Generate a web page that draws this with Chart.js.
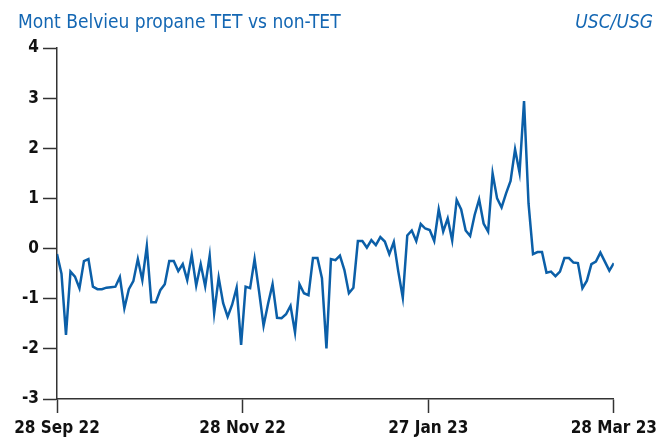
<!DOCTYPE html>
<html>
<head>
<meta charset="utf-8">
<script src="https://cdn.jsdelivr.net/npm/chart.js@4/dist/chart.umd.min.js"></script>
<style>
  html, body { margin: 0; padding: 0; background: #ffffff; }
  #wrap { width: 662px; height: 446px; position: relative; }
</style>
</head>
<body>
<div id="wrap"><canvas id="c" width="662" height="446"></canvas></div>
<script>
// ---- data ----
const chartTitle = 'Mont Belvieu propane TET vs non-TET';
const unitLabel = 'USC/USG';
const tickLabels = ['28 Sep 22', '28 Nov 22', '27 Jan 23', '28 Mar 23'];
const yMin = -3;
const yMax = 4;
const values = [
  -0.11, -0.50, -1.72, -0.46, -0.56, -0.79, -0.25, -0.21, -0.76, -0.81,
  -0.81, -0.78, -0.77, -0.76, -0.57, -1.19, -0.81, -0.65, -0.21, -0.63,
   0.05, -1.07, -1.07, -0.83, -0.71, -0.25, -0.25, -0.45, -0.31, -0.63,
  -0.13, -0.74, -0.31, -0.75, -0.14, -1.29, -0.58, -1.09, -1.36, -1.12,
  -0.78, -1.92, -0.76, -0.79, -0.21, -0.86, -1.54, -1.10, -0.71, -1.38,
  -1.39, -1.31, -1.14, -1.67, -0.71, -0.89, -0.93, -0.19, -0.19, -0.59,
  -1.99, -0.21, -0.23, -0.14, -0.43, -0.89, -0.78,  0.15,  0.15,  0.02,
   0.17,  0.07,  0.23,  0.14, -0.11,  0.13, -0.46, -0.98,  0.26,  0.36,
   0.15,  0.49,  0.40,  0.37,  0.15,  0.78,  0.34,  0.60,  0.16,  0.97,
   0.78,  0.36,  0.25,  0.67,  0.98,  0.50,  0.34,  1.50,  1.00,  0.82,
   1.10,  1.35,  1.98,  1.51,  2.94,  0.90, -0.11, -0.07, -0.07, -0.48,
  -0.46, -0.55, -0.46, -0.19, -0.19, -0.28, -0.29, -0.79, -0.64, -0.31,
  -0.26, -0.08, -0.26, -0.44, -0.29
];

const points = values.map((v, i) => ({ x: i, y: v }));
const lastIndex = values.length - 1;

const FONT = '"DejaVu Sans Condensed", "DejaVu Sans", sans-serif';
const BLUE = '#0b5fa8';
const TITLE_BLUE = '#1467b3';

const headerPlugin = {
  id: 'header',
  afterDraw(chart) {
    const ctx = chart.ctx;
    ctx.save();
    ctx.fillStyle = TITLE_BLUE;
    ctx.textBaseline = 'alphabetic';
    ctx.font = '19px ' + FONT;
    ctx.textAlign = 'left';
    ctx.fillText(chartTitle, 18, 28);
    ctx.font = 'italic 19px ' + FONT;
    ctx.textAlign = 'right';
    ctx.fillText(unitLabel, 653, 28);
    ctx.restore();
  }
};

new Chart(document.getElementById('c'), {
  type: 'line',
  data: {
    datasets: [{
      data: points,
      borderColor: BLUE,
      borderWidth: 2.5,
      pointRadius: 0,
      tension: 0,
      fill: false
    }]
  },
  options: {
    responsive: false,
    animation: false,
    devicePixelRatio: 1,
    layout: { padding: { top: 48, right: 48, bottom: 0, left: 0 } },
    plugins: {
      legend: { display: false },
      tooltip: { enabled: false },
      title: { display: false }
    },
    scales: {
      x: {
        type: 'linear',
        min: 0,
        max: lastIndex,
        afterBuildTicks(scale) {
          const n = tickLabels.length - 1;
          scale.ticks = tickLabels.map((l, i) => ({ value: i * lastIndex / n }));
        },
        afterFit(scale) { scale.height = 47; },
        ticks: {
          autoSkip: false,
          maxRotation: 0,
          padding: 5,
          color: '#111',
          font: { family: FONT, size: 17, weight: 'bold' },
          callback: (v, i) => tickLabels[i]
        },
        grid: {
          display: true,
          drawOnChartArea: false,
          drawTicks: true,
          tickLength: 14,
          tickColor: '#333',
          tickWidth: 1.5
        },
        border: { display: true, color: '#333', width: 1.5 }
      },
      y: {
        min: yMin,
        max: yMax,
        afterFit(scale) { scale.width = 57; },
        ticks: {
          stepSize: 1,
          padding: 4,
          color: '#111',
          font: { family: FONT, size: 17, weight: 'bold' }
        },
        grid: {
          display: true,
          drawOnChartArea: false,
          drawTicks: true,
          tickLength: 14,
          tickColor: '#333',
          tickWidth: 1.5
        },
        border: { display: true, color: '#333', width: 1.5 }
      }
    }
  },
  plugins: [headerPlugin]
});
</script>
</body>
</html>
